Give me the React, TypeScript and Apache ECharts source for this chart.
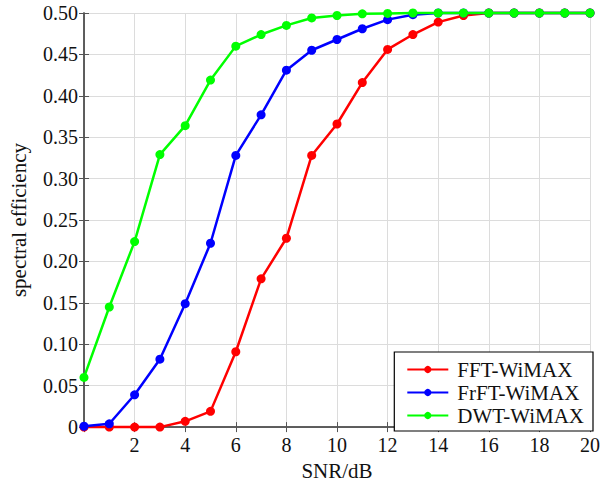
import React, { useEffect, useRef } from "react";
import * as echarts from "echarts";

const snr = [0, 1, 2, 3, 4, 5, 6, 7, 8, 9, 10, 11, 12, 13, 14, 15, 16, 17, 18, 19, 20];
const fftWimax = [0, 0, 0, 0, 0.007, 0.019, 0.091, 0.179, 0.228, 0.328, 0.366, 0.416, 0.456, 0.474, 0.489, 0.497, 0.5, 0.5, 0.5, 0.5, 0.5];
const frftWimax = [0.001, 0.004, 0.039, 0.082, 0.149, 0.222, 0.328, 0.377, 0.431, 0.455, 0.468, 0.481, 0.492, 0.498, 0.5, 0.5, 0.5, 0.5, 0.5, 0.5, 0.5];
const dwtWimax = [0.06, 0.145, 0.224, 0.329, 0.364, 0.419, 0.46, 0.474, 0.485, 0.494, 0.497, 0.499, 0.4995, 0.5, 0.5, 0.5, 0.5, 0.5, 0.5, 0.5, 0.5];
const seriesNames = ["FFT-WiMAX", "FrFT-WiMAX", "DWT-WiMAX"];
const seriesColors = ["#ff0000", "#0000ff", "#00ff00"];

const FONT = "Liberation Serif";

export default function App() {
  const ref = useRef<HTMLDivElement>(null);
  useEffect(() => {
    if (!ref.current) return;
    const chart = echarts.init(ref.current, null, { renderer: "svg" });
    const allData = [fftWimax, frftWimax, dwtWimax];
    const axisLine = { show: true, lineStyle: { color: "#555", width: 1.5 } };
    const tick = { show: true, inside: true, length: 5, lineStyle: { color: "#555" } };
    chart.setOption({
      animation: false,
      backgroundColor: "#fff",
      textStyle: { fontFamily: FONT },
      grid: { left: 81, right: 9, top: 13, bottom: 56, containLabel: false },
      legend: {
        data: seriesNames,
        orient: "vertical",
        right: 10,
        bottom: 55,
        backgroundColor: "#fff",
        borderColor: "#000",
        borderWidth: 1.2,
        borderRadius: 0,
        padding: [7, 9, 5, 12],
        itemGap: 2,
        itemWidth: 41,
        itemHeight: 9,
        textStyle: { fontFamily: FONT, fontSize: 21, color: "#111", padding: [0, 0, 0, 4] },
      },
      xAxis: [
        {
          type: "value",
          min: 0,
          max: 20,
          interval: 2,
          name: "SNR/dB",
          nameLocation: "middle",
          nameGap: 27,
          nameTextStyle: { fontFamily: FONT, fontSize: 21, color: "#111" },
          axisLine,
          axisTick: tick,
          axisLabel: {
            fontFamily: FONT,
            fontSize: 20,
            color: "#111",
            margin: 8,
            formatter: (v: number) => (v === 0 ? "" : String(v)),
          },
          splitLine: { show: true, lineStyle: { color: "#dcdcdc", width: 1 } },
        },
        {
          type: "value",
          position: "top",
          min: 0,
          max: 20,
          interval: 2,
          axisLine,
          axisTick: tick,
          axisLabel: { show: false },
          splitLine: { show: false },
        },
      ],
      yAxis: [
        {
          type: "value",
          min: 0,
          max: 0.5,
          interval: 0.05,
          name: "spectral efficiency",
          nameLocation: "middle",
          nameGap: 55,
          nameTextStyle: { fontFamily: FONT, fontSize: 21, color: "#111" },
          axisLine,
          axisTick: tick,
          axisLabel: {
            fontFamily: FONT,
            fontSize: 20,
            color: "#111",
            margin: 6,
            formatter: (v: number) => (v === 0 ? "0" : v.toFixed(2)),
          },
          splitLine: { show: true, lineStyle: { color: "#dcdcdc", width: 1 } },
        },
        {
          type: "value",
          position: "right",
          min: 0,
          max: 0.5,
          interval: 0.05,
          axisLine,
          axisTick: tick,
          axisLabel: { show: false },
          splitLine: { show: false },
        },
      ],
      series: seriesNames.map((name, i) => ({
        name,
        type: "line",
        data: snr.map((x, j) => [x, allData[i][j]]),
        symbol: "circle",
        symbolSize: 9,
        showSymbol: true,
        clip: false,
        lineStyle: { color: seriesColors[i], width: 2.5 },
        itemStyle: { color: seriesColors[i] },
        z: 2 + i,
      })),
    });
    return () => chart.dispose();
  }, []);
  return (
    <div
      ref={ref}
      style={{ position: "fixed", left: 0, top: 0, width: 603, height: 486, background: "#fff" }}
    />
  );
}
